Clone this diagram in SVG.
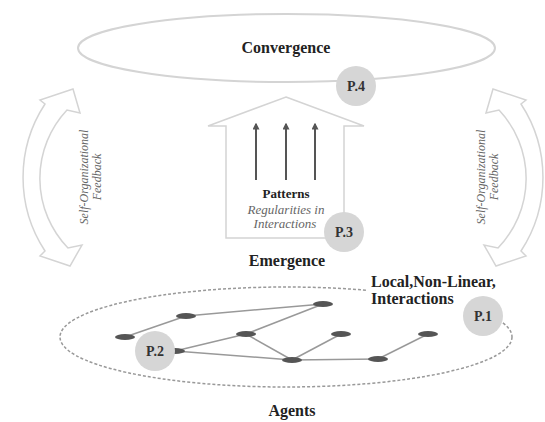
<svg xmlns="http://www.w3.org/2000/svg" width="545" height="422" viewBox="0 0 545 422">
<defs>
<style>
.lbl{font-family:"Liberation Serif","Times New Roman",serif;font-weight:bold;fill:#222;text-anchor:middle}
.big{font-size:16px}
.pc{fill:#d6d6d6;stroke:none}
.pt{font-family:"Liberation Serif","Times New Roman",serif;font-weight:bold;font-size:14px;fill:#333;text-anchor:middle}
.it{font-family:"Liberation Serif","Times New Roman",serif;font-style:italic;fill:#666;text-anchor:middle}
.edge{stroke:#999;stroke-width:1.5;fill:none}
.node{fill:#555}
.band{fill:#fff;stroke:#d4d4d4;stroke-width:1.5}
.up{stroke:#555;stroke-width:2;fill:none}
</style>
<marker id="ah" viewBox="0 0 10 10" refX="8" refY="5" markerWidth="3.5" markerHeight="3.5" orient="auto">
<path d="M0,0 L10,5 L0,10 z" fill="#555"/>
</marker>
<path id="carrow" d="M45,104 L40,100 L73,89 L80,113 L67,110 A100,100 0 0 0 68,248 L82,245 L70,266 L40,256 L45,251 A134,134 0 0 1 45,104 Z"/>
</defs>
<rect width="545" height="422" fill="#fff"/>

<g id="feedback-left">
<use href="#carrow" class="band"/>
<text class="it" font-size="12" transform="translate(88,177) rotate(-90)">Self-Organizational</text>
<text class="it" font-size="12" transform="translate(101,177) rotate(-90)">Feedback</text>
</g>
<g id="feedback-right">
<use href="#carrow" class="band" transform="translate(566,0) scale(-1,1)"/>
<text class="it" font-size="12" transform="translate(485,177) rotate(-90)">Self-Organizational</text>
<text class="it" font-size="12" transform="translate(498,177) rotate(-90)">Feedback</text>
</g>

<g id="convergence">
<ellipse cx="286.5" cy="48" rx="208.5" ry="34" fill="#fff" stroke="#d4d4d4" stroke-width="2"/>
<text class="lbl big" x="286" y="53">Convergence</text>
</g>

<g id="emergence">
<polygon points="286,97 364,126 344,126 344,238 226,238 226,126 208,126" class="band"/>
<line class="up" x1="256" y1="180" x2="256" y2="124" marker-end="url(#ah)"/>
<line class="up" x1="286" y1="180" x2="286" y2="124" marker-end="url(#ah)"/>
<line class="up" x1="315" y1="180" x2="315" y2="124" marker-end="url(#ah)"/>
<text class="lbl" font-size="13" x="286" y="198">Patterns</text>
<text class="it" font-size="13" x="286" y="213.5">Regularities in</text>
<text class="it" font-size="13" x="285" y="228">Interactions</text>
<text class="lbl big" x="287" y="266">Emergence</text>
</g>

<g id="agents-region">
<ellipse cx="286" cy="337" rx="226" ry="50" fill="none" stroke="#999" stroke-width="1.5" stroke-dasharray="3 2"/>
<rect x="366" y="273" width="130" height="36" fill="#fff"/>
<text class="lbl big" x="371" y="287" style="text-anchor:start">Local,Non-Linear,</text>
<text class="lbl big" x="371" y="304" style="text-anchor:start">Interactions</text>
<text class="lbl big" x="292" y="416">Agents</text>
</g>

<g id="connectors">
<line class="edge" x1="125" y1="337" x2="186" y2="316"/>
<line class="edge" x1="186" y1="316" x2="323" y2="304"/>
<line class="edge" x1="323" y1="304" x2="246" y2="334"/>
<line class="edge" x1="175" y1="351" x2="246" y2="334"/>
<line class="edge" x1="175" y1="351" x2="292" y2="360"/>
<line class="edge" x1="246" y1="334" x2="292" y2="360"/>
<line class="edge" x1="292" y1="360" x2="341" y2="334"/>
<line class="edge" x1="292" y1="360" x2="378" y2="359"/>
<line class="edge" x1="378" y1="359" x2="428" y2="334"/>
</g>

<g id="n1"><ellipse class="node" cx="125" cy="337" rx="10" ry="3"/></g>
<g id="n2"><ellipse class="node" cx="186" cy="316" rx="10" ry="3"/></g>
<g id="n3"><ellipse class="node" cx="323" cy="304" rx="10" ry="3"/></g>
<g id="n4"><ellipse class="node" cx="246" cy="334" rx="10" ry="3"/></g>
<g id="n5"><ellipse class="node" cx="341" cy="334" rx="10" ry="3"/></g>
<g id="n6"><ellipse class="node" cx="428" cy="334" rx="10" ry="3"/></g>
<g id="n7"><ellipse class="node" cx="292" cy="360" rx="10" ry="3"/></g>
<g id="n8"><ellipse class="node" cx="378" cy="359" rx="10" ry="3"/></g>
<g id="n9"><ellipse class="node" cx="175" cy="351" rx="10" ry="3"/></g>

<g id="p4"><circle class="pc" cx="356" cy="86" r="20"/><text class="pt" x="356" y="91">P.4</text></g>
<g id="p3"><circle class="pc" cx="344" cy="232" r="20"/><text class="pt" x="344" y="237">P.3</text></g>
<g id="p2"><circle class="pc" cx="155" cy="351" r="20"/><text class="pt" x="155" y="356">P.2</text></g>
<g id="p1"><circle class="pc" cx="483" cy="316" r="20"/><text class="pt" x="483" y="321">P.1</text></g>
</svg>
